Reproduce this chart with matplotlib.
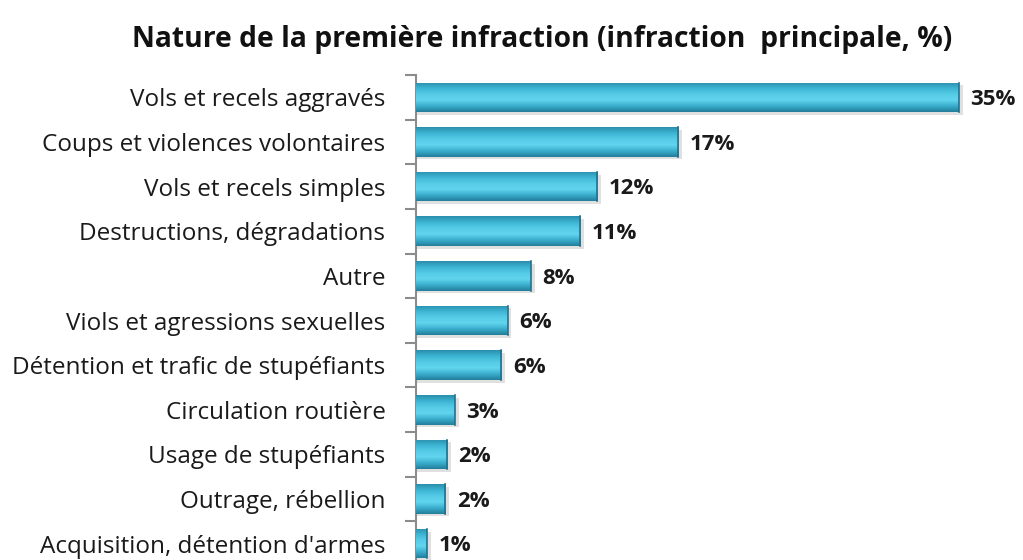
import numpy as np
import matplotlib.pyplot as plt
from matplotlib.colors import LinearSegmentedColormap

# data
categories = ['Vols et recels aggravés', 'Coups et violences volontaires',
              'Vols et recels simples', 'Destructions, dégradations', 'Autre',
              'Viols et agressions sexuelles', 'Détention et trafic de stupéfiants',
              'Circulation routière', 'Usage de stupéfiants', 'Outrage, rébellion',
              "Acquisition, détention d'armes"]
values = [35.0, 16.9, 11.7, 10.6, 7.4, 5.9, 5.5, 2.5, 2.0, 1.9, 0.7]
value_labels = ['35%', '17%', '12%', '11%', '8%', '6%', '6%', '3%', '2%', '2%', '1%']

plt.rcParams['font.family'] = ['Open Sans', 'DejaVu Sans']

fig = plt.figure(figsize=(10.23, 5.6), dpi=100)
ax = fig.add_axes([416/1023, -6/560, 594/1023, 491/560])

n = len(categories)
y = np.arange(n)
h = 0.66

# cylinder-like gradient for bars
cmap = LinearSegmentedColormap.from_list('cyl', ['#2b8fad', '#3db4d3', '#55cbe6', '#62d5ee', '#3aaecd', '#237e9b'])
grad = np.linspace(0, 1, 64).reshape(-1, 1)

bars = ax.barh(y, values, height=h, color='#3cb4d2', edgecolor='none', zorder=2)
for b in bars:
    x0, y0 = b.get_x(), b.get_y()
    w, hh = b.get_width(), b.get_height()
    # shadow
    ax.barh(y0 + hh / 2 + 0.06, w + 0.25, left=x0, height=hh, color='#000000',
            alpha=0.12, edgecolor='none', zorder=1)
    im = ax.imshow(grad, extent=[x0, x0 + w, y0 + hh, y0], aspect='auto',
                   cmap=cmap, zorder=3)
    im.set_clip_path(b)
    ax.plot([x0 + w, x0 + w], [y0, y0 + hh], color='#1f7390', lw=1.2, zorder=4)

for yi, v, lab in zip(y, values, value_labels):
    ax.text(v + 0.75, yi + 0.05, lab, va='center', ha='left', fontsize=16,
            fontweight='bold', color='#1a1a1a')

ax.set_xlim(0, 38.3)
ax.set_ylim(n - 0.5, -0.5)
ax.set_yticks(y)
ax.set_yticklabels(categories, fontsize=17.5, color='#1a1a1a')
ax.tick_params(axis='y', which='major', length=0, pad=22)
ax.set_yticks(np.arange(-0.5, n, 1), minor=True)
ax.tick_params(axis='y', which='minor', length=8, width=1.5, color='#8c8c8c')
ax.set_xticks([])
for s in ['top', 'right', 'bottom']:
    ax.spines[s].set_visible(False)
ax.spines['left'].set_color('#8c8c8c')
ax.spines['left'].set_linewidth(1.5)

fig.text(542/1023, 1 - 40/560, 'Nature de la première infraction (infraction  principale, %)',
         ha='center', va='center', fontsize=20.3, fontweight='bold', color='#111111')

fig.savefig('out.png', dpi=100)
